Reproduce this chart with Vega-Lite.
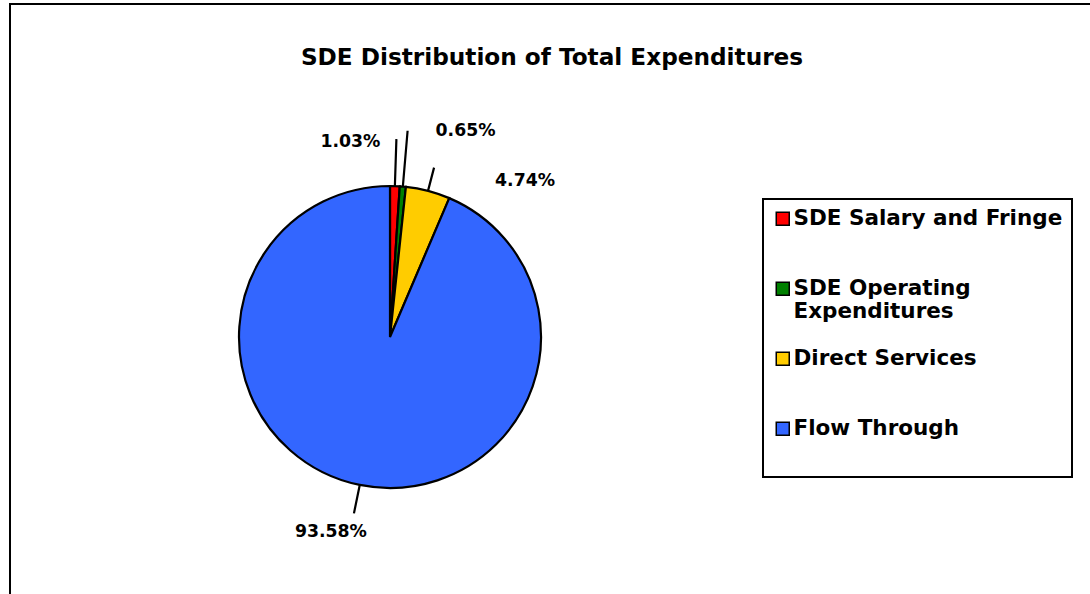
{
  "$schema": "https://vega.github.io/schema/vega-lite/v6.json",
  "width": 1082,
  "height": 594,
  "autosize": {"type": "none"},
  "padding": {"left": 10, "top": 4, "right": -2, "bottom": -4},
  "background": "white",
  "title": {
    "text": "SDE Distribution of Total Expenditures",
    "font": "DejaVu Sans",
    "fontSize": 23.2,
    "fontWeight": "bold",
    "color": "black",
    "anchor": "middle",
    "frame": "group",
    "baseline": "alphabetic",
    "offset": 0,
    "dy": 84,
    "dx": 1
  },
  "data": {
    "values": [
      {"category": "SDE Salary and Fringe", "pct": 1.03, "idx": 1},
      {"category": "SDE Operating Expenditures", "pct": 0.65, "idx": 2},
      {"category": "Direct Services", "pct": 4.74, "idx": 3},
      {"category": "Flow Through", "pct": 93.58, "idx": 4}
    ]
  },
  "transform": [
    {"window": [{"op": "sum", "field": "pct", "as": "cum"}], "sort": [{"field": "idx"}], "frame": [null, 0]},
    {"calculate": "datum.cum - datum.pct / 2", "as": "mid"},
    {"calculate": "format(datum.pct, '.2f') + '%'", "as": "label"}
  ],
  "encoding": {
    "x": {"datum": 0.3512, "type": "quantitative", "scale": {"domain": [0, 1], "nice": false, "zero": false}, "axis": null},
    "y": {"datum": 0.5606, "type": "quantitative", "scale": {"domain": [0, 1], "nice": false, "zero": false, "reverse": true}, "axis": null}
  },
  "layer": [
    {
      "mark": {"type": "arc", "outerRadius": 151, "stroke": "black", "strokeWidth": 2.2},
      "encoding": {
        "theta": {"field": "pct", "type": "quantitative", "stack": true, "scale": {"domain": [0, 100]}},
        "order": {"field": "idx", "type": "quantitative"},
        "color": {
          "field": "category",
          "type": "nominal",
          "sort": ["SDE Salary and Fringe", "SDE Operating Expenditures", "Direct Services", "Flow Through"],
          "scale": {
            "domain": ["SDE Salary and Fringe", "SDE Operating Expenditures", "Direct Services", "Flow Through"],
            "range": ["#FF0000", "#008000", "#FFCC00", "#3366FF"]
          },
          "legend": {
            "orient": "none",
            "legendX": 753,
            "legendY": 195,
            "title": " ",
            "titleOrient": "bottom",
            "titleFontSize": 17,
            "titlePadding": 13,
            "strokeColor": "black",
            "fillColor": "white",
            "padding": 9,
            "labelFont": "DejaVu Sans",
            "labelFontWeight": "bold",
            "labelFontSize": 21.5,
            "labelColor": "black",
            "labelLimit": 500,
            "labelOffset": 0,
            "labelBaseline": "middle",
            "rowPadding": 24,
            "gridAlign": "all",
            "symbolType": "square",
            "symbolSize": 169,
            "symbolStrokeWidth": 1.5,
            "symbolStrokeColor": "black",
            "symbolOpacity": 1,
            "labelExpr": "datum.label == 'SDE Operating Expenditures' ? ['SDE Operating', 'Expenditures'] : datum.label"
          }
        }
      }
    },
    {
      "transform": [{"filter": "datum.idx == 1"}],
      "mark": {"type": "arc", "innerRadius": 151, "outerRadius": 198, "stroke": "black", "strokeWidth": 2.2, "fill": "black"},
      "encoding": {
        "theta": {"field": "mid", "type": "quantitative", "stack": null, "scale": {"domain": [0, 100]}},
        "theta2": {"field": "mid"}
      }
    },
    {
      "transform": [{"filter": "datum.idx == 2"}],
      "mark": {"type": "arc", "innerRadius": 151, "outerRadius": 207, "stroke": "black", "strokeWidth": 2.2, "fill": "black"},
      "encoding": {
        "theta": {"field": "mid", "type": "quantitative", "stack": null, "scale": {"domain": [0, 100]}},
        "theta2": {"field": "mid"}
      }
    },
    {
      "transform": [{"filter": "datum.idx == 3"}],
      "mark": {"type": "arc", "innerRadius": 151, "outerRadius": 175, "stroke": "black", "strokeWidth": 2.2, "fill": "black"},
      "encoding": {
        "theta": {"field": "mid", "type": "quantitative", "stack": null, "scale": {"domain": [0, 100]}},
        "theta2": {"field": "mid"}
      }
    },
    {
      "transform": [{"filter": "datum.idx == 4"}],
      "mark": {"type": "arc", "innerRadius": 151, "outerRadius": 180, "stroke": "black", "strokeWidth": 2.2, "fill": "black"},
      "encoding": {
        "theta": {"field": "mid", "type": "quantitative", "stack": null, "scale": {"domain": [0, 100]}},
        "theta2": {"field": "mid"}
      }
    },
    {
      "transform": [{"filter": "datum.idx == 1"}],
      "mark": {"type": "text", "radius": 198, "align": "right", "baseline": "middle", "dx": -16, "dy": 3, "font": "DejaVu Sans", "fontSize": 17.3, "fontWeight": "bold", "color": "black"},
      "encoding": {
        "theta": {"field": "mid", "type": "quantitative", "stack": null, "scale": {"domain": [0, 100]}},
        "text": {"field": "label"}
      }
    },
    {
      "transform": [{"filter": "datum.idx == 2"}],
      "mark": {"type": "text", "radius": 207, "align": "left", "baseline": "middle", "dx": 28, "dy": 0, "font": "DejaVu Sans", "fontSize": 17.3, "fontWeight": "bold", "color": "black"},
      "encoding": {
        "theta": {"field": "mid", "type": "quantitative", "stack": null, "scale": {"domain": [0, 100]}},
        "text": {"field": "label"}
      }
    },
    {
      "transform": [{"filter": "datum.idx == 3"}],
      "mark": {"type": "text", "radius": 175, "align": "left", "baseline": "middle", "dx": 61, "dy": 13, "font": "DejaVu Sans", "fontSize": 17.3, "fontWeight": "bold", "color": "black"},
      "encoding": {
        "theta": {"field": "mid", "type": "quantitative", "stack": null, "scale": {"domain": [0, 100]}},
        "text": {"field": "label"}
      }
    },
    {
      "transform": [{"filter": "datum.idx == 4"}],
      "mark": {"type": "text", "radius": 180, "align": "center", "baseline": "middle", "dx": -23, "dy": 19, "font": "DejaVu Sans", "fontSize": 17.3, "fontWeight": "bold", "color": "black"},
      "encoding": {
        "theta": {"field": "mid", "type": "quantitative", "stack": null, "scale": {"domain": [0, 100]}},
        "text": {"field": "label"}
      }
    }
  ],
  "config": {
    "view": {"stroke": "black", "strokeWidth": 2},
    "legend": {"strokeWidth": 2}
  }
}
